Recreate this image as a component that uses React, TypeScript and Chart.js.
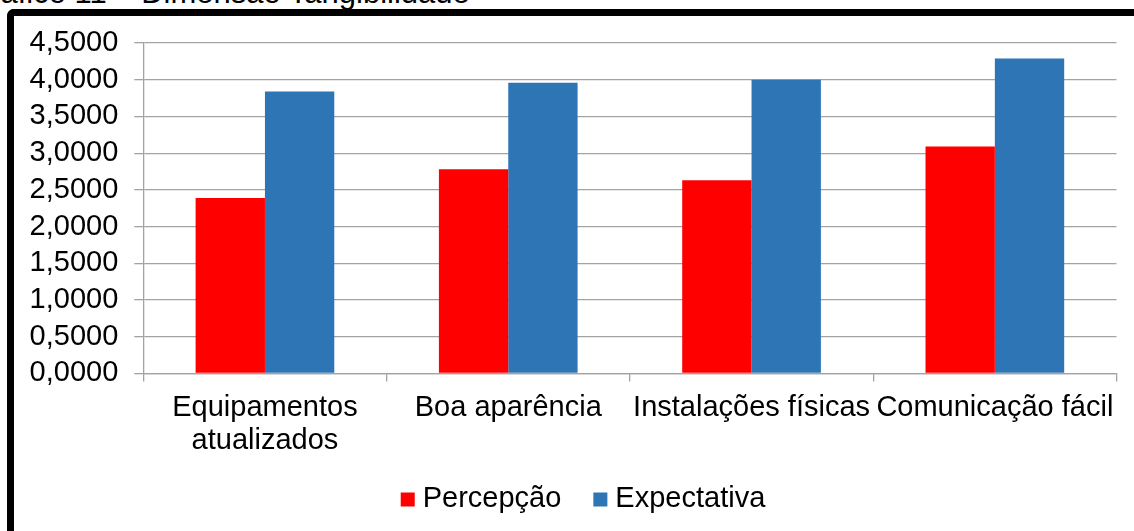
import React, { useEffect, useRef } from 'react';
import { Chart, registerables } from 'chart.js';

Chart.register(...registerables);

// Dimensão Tangibilidade: perceived vs. expected scores per item
const categories: (string | string[])[] = [
  ['Equipamentos', 'atualizados'],
  'Boa aparência',
  'Instalações físicas',
  'Comunicação fácil',
];
const percepcao = [2.39, 2.78, 2.63, 3.09];
const expectativa = [3.84, 3.96, 4.0, 4.29];
const seriesNames = ['Percepção', 'Expectativa'];
const seriesColors = ['#FF0000', '#2E75B6'];
const yMin = 0;
const yMax = 4.5;
const yStep = 0.5;
const caption = 'Gráfico 11 – Dimensão Tangibilidade';

const FONT = '"Liberation Sans", Arial, sans-serif';
const FONT_SIZE = 29;
const CAPTION_SIZE = 31;
const GRID = '#a3a3a3';

// Legend drawn under the axis: square swatch followed by the series name
const bottomLegend = {
  id: 'bottomLegend',
  afterDraw(chart: any, _args: any, opts: any) {
    const ctx: CanvasRenderingContext2D = chart.ctx;
    ctx.save();
    ctx.font = `${opts.fontSize}px ${FONT}`;
    const items = chart.data.datasets.map((ds: any) => ({
      text: ds.label as string,
      color: ds.backgroundColor as string,
      w: ctx.measureText(ds.label).width,
    }));
    const total =
      items.reduce((s: number, it: any) => s + opts.box + opts.gap + it.w, 0) +
      opts.spacing * (items.length - 1);
    let x = opts.centerX - total / 2;
    ctx.textBaseline = 'middle';
    ctx.textAlign = 'left';
    items.forEach((it: any) => {
      ctx.fillStyle = it.color;
      ctx.fillRect(x, opts.boxY - opts.box / 2, opts.box, opts.box);
      x += opts.box + opts.gap;
      ctx.fillStyle = '#000';
      ctx.fillText(it.text, x, opts.textY);
      x += it.w + opts.spacing;
    });
    ctx.restore();
  },
};

export default function App() {
  const canvasRef = useRef<HTMLCanvasElement | null>(null);

  useEffect(() => {
    if (!canvasRef.current) return;
    const chart = new Chart(canvasRef.current, {
      type: 'bar',
      data: {
        labels: categories,
        datasets: [
          {
            label: seriesNames[0],
            data: percepcao,
            backgroundColor: seriesColors[0],
            borderWidth: 0,
            categoryPercentage: 0.57,
            barPercentage: 1,
          },
          {
            label: seriesNames[1],
            data: expectativa,
            backgroundColor: seriesColors[1],
            borderWidth: 0,
            categoryPercentage: 0.57,
            barPercentage: 1,
          },
        ],
      },
      options: {
        responsive: false,
        animation: false,
        devicePixelRatio: 1,
        layout: { padding: { left: 13.6, right: 17.5, top: 43, bottom: 64 } },
        plugins: {
          legend: { display: false },
          title: { display: false },
          tooltip: { enabled: false },
          bottomLegend: {
            centerX: 583,
            boxY: 499.5,
            textY: 498.5,
            box: 14,
            gap: 8,
            spacing: 32,
            fontSize: FONT_SIZE,
          },
        } as any,
        scales: {
          x: {
            offset: true,
            grid: {
              offset: true,
              drawOnChartArea: false,
              drawTicks: true,
              tickLength: 8,
              color: GRID,
              lineWidth: 1.3,
            },
            border: { color: GRID, width: 1.3 },
            ticks: {
              color: '#000',
              padding: 10,
              autoSkip: false,
              maxRotation: 0,
              minRotation: 0,
              font: { family: FONT, size: FONT_SIZE, lineHeight: 1.13 },
            },
          },
          y: {
            min: yMin,
            max: yMax,
            grid: {
              color: GRID,
              lineWidth: 1.3,
              drawTicks: true,
              tickLength: 9,
            },
            border: { color: GRID, width: 1.3 },
            ticks: {
              stepSize: yStep,
              autoSkip: false,
              color: '#000',
              padding: 16,
              font: { family: FONT, size: FONT_SIZE, lineHeight: 1 },
              callback: (v: any) => Number(v).toFixed(4).replace('.', ','),
            },
          },
        },
      },
      plugins: [bottomLegend as any],
    });
    return () => chart.destroy();
  }, []);

  return (
    <div
      style={{
        position: 'fixed',
        left: 0,
        top: 0,
        width: 1134,
        height: 531,
        overflow: 'hidden',
        background: '#fff',
      }}
    >
      <div
        style={{
          position: 'absolute',
          left: -34,
          top: -22.7,
          whiteSpace: 'nowrap',
          font: `${CAPTION_SIZE}px ${FONT}`,
          lineHeight: `${CAPTION_SIZE}px`,
          color: '#000',
        }}
      >
        {caption}
      </div>
      <div
        style={{
          position: 'absolute',
          left: 7,
          top: 9,
          width: 2000,
          height: 1000,
          borderLeft: '7px solid #000',
          borderTop: '7px solid #000',
          borderTopLeftRadius: 7,
          background: '#fff',
        }}
      />
      <canvas
        ref={canvasRef}
        width={1134}
        height={531}
        style={{ position: 'absolute', left: 0, top: 0, width: 1134, height: 531 }}
      />
    </div>
  );
}
